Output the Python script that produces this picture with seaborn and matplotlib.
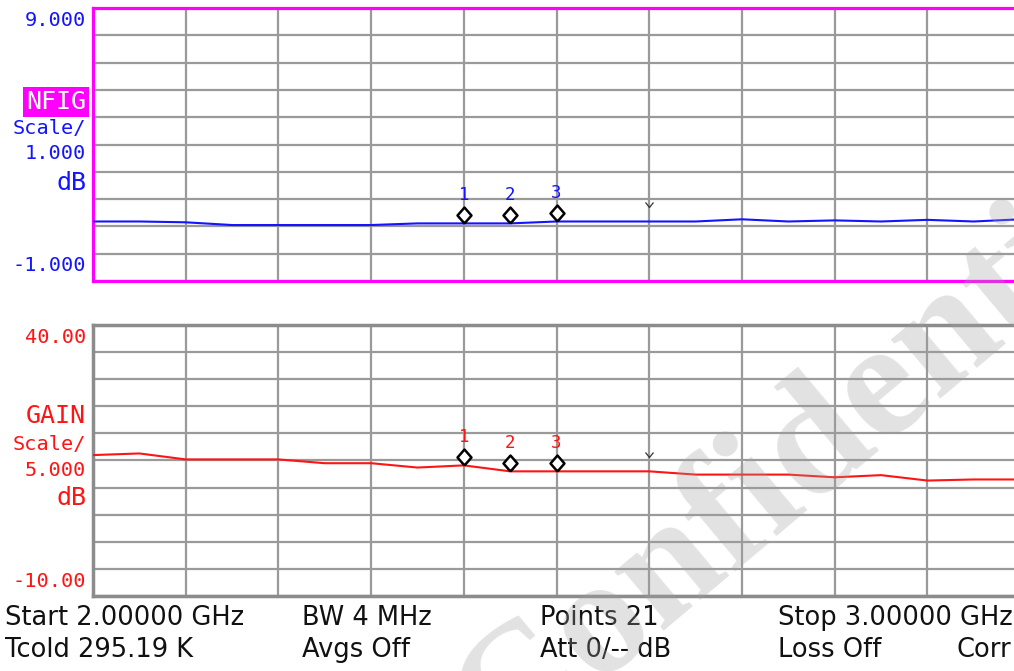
import numpy as np
import seaborn as sns
import matplotlib.pyplot as plt

# sweep points (GHz) and traces
freq_ghz = [2.00, 2.05, 2.10, 2.15, 2.20, 2.25, 2.30, 2.35, 2.40, 2.45, 2.50,
            2.55, 2.60, 2.65, 2.70, 2.75, 2.80, 2.85, 2.90, 2.95, 3.00]
nfig_db = [1.18, 1.18, 1.15, 1.05, 1.05, 1.05, 1.05, 1.11, 1.11, 1.11, 1.18,
           1.18, 1.18, 1.18, 1.26, 1.18, 1.22, 1.18, 1.24, 1.18, 1.26]
gain_db = [16.0, 16.3, 15.2, 15.2, 15.2, 14.5, 14.5, 13.7, 14.1, 13.0, 13.0,
           13.0, 13.0, 12.4, 12.4, 12.4, 11.9, 12.3, 11.3, 11.5, 11.5]

marker_freq = [2.40, 2.45, 2.50]
marker_names = ['1', '2', '3']
ref_freq = 2.60

nfig_labels = ['9.000', 'NFIG', 'Scale/', '1.000', 'dB', '-1.000']
gain_labels = ['40.00', 'GAIN', 'Scale/', '5.000', 'dB', '-10.00']
footer_row1 = ['Start 2.00000 GHz', 'BW 4 MHz', 'Points 21', 'Stop 3.00000 GHz']
footer_row2 = ['Tcold 295.19 K', 'Avgs Off', 'Att 0/-- dB', 'Loss Off', 'Corr']

BLUE = '#1414ff'
RED = '#ff1414'
MAGENTA = '#ff00ff'
GRID = '#9a9a9a'

sns.set_style('white')
plt.rcParams['font.family'] = ['DejaVu Sans Mono', 'DejaVu Sans']

W, H = 1014, 671
fig = plt.figure(figsize=(W / 100, H / 100), dpi=100)
fig.patch.set_facecolor('white')


def px_axes(x0, y0, x1, y1):
    return fig.add_axes([x0 / W, 1 - y1 / H, (x1 - x0) / W, (y1 - y0) / H])


def px_text(x, y, s, **kw):
    return fig.text(x / W, 1 - y / H, s, **kw)


# custom markers in pixel units (1 unit = 1 px at the chosen markersize)
diamond = [(0, 0), (7, 8), (0, 16), (-7, 8), (0, 0)]
chevron = [(-4, 19), (0, 14), (4, 19)]


def panel(ax, y, lo, hi, color, spine_color, spine_w):
    sns.lineplot(x=freq_ghz, y=y, ax=ax, color=color, linewidth=1.5,
                 legend=False, zorder=3)
    ax.set_xlim(2.0, 3.0)
    ax.set_ylim(lo, hi)
    ax.set_xticks(np.linspace(2.0, 3.0, 11))
    ax.set_yticks(np.linspace(lo, hi, 11))
    ax.grid(True, color=GRID, linewidth=1.6, zorder=0)
    ax.set_axisbelow(True)
    ax.tick_params(length=0, labelbottom=False, labelleft=False)
    ax.set_xlabel('')
    ax.set_ylabel('')
    for s in ax.spines.values():
        s.set_color(spine_color)
        s.set_linewidth(spine_w)

    for f, name in zip(marker_freq, marker_names):
        v = y[freq_ghz.index(f)]
        ax.plot([f], [v], marker=diamond, markersize=23, mfc='white',
                mec='black', mew=1.8, ls='none', zorder=5)
        ax.annotate(name, (f, v), xytext=(0, 17), textcoords='offset points',
                    ha='center', va='baseline', color=color, fontsize=12.5,
                    zorder=6)
    rv = y[freq_ghz.index(ref_freq)]
    ax.plot([ref_freq], [rv], marker=chevron, markersize=27.4, mfc='none',
            mec='#333333', mew=0.9, ls='none', zorder=5)


ax_nf = px_axes(93, 8, 1020, 281)
panel(ax_nf, nfig_db, -1, 9, BLUE, MAGENTA, 2.3)
ax_g = px_axes(93, 325, 1020, 596)
panel(ax_g, gain_db, -10, 40, RED, '#8c8c8c', 2.5)

# left-side scale annotations
small = dict(ha='right', va='baseline', fontsize=14.6)
big = dict(ha='right', va='baseline', fontsize=18)
nf_base = [26, 109, 134, 159, 190, 271]
g_base = [343, 423, 450, 476, 505, 587]
for lab, yb in zip(nfig_labels, nf_base):
    if lab == 'NFIG':
        px_text(86, yb, lab, color='white',
                bbox=dict(boxstyle='square,pad=0.12', fc=MAGENTA, ec='none'),
                **big)
    elif lab == 'dB':
        px_text(86, yb, lab, color=BLUE, **big)
    else:
        px_text(86, yb, lab, color=BLUE, **small)
for lab, yb in zip(gain_labels, g_base):
    kw = big if lab in ('GAIN', 'dB') else small
    px_text(86, yb, lab, color=RED, **kw)

# footer status lines
foot = dict(ha='left', va='baseline', fontsize=18.5, color='#111111',
            family='DejaVu Sans')
for x, s in zip([5, 302, 540, 778], footer_row1):
    px_text(x, 625, s, **foot)
for x, s in zip([5, 302, 540, 778, 957], footer_row2):
    px_text(x, 657, s, **foot)

# watermark (runs off the bottom-right edge, as in the screenshot)
px_text(818, 442, 'Confidential', rotation=40, rotation_mode='anchor',
        ha='center', va='center', fontsize=120, family='Liberation Serif',
        weight='bold', color='#a0a0a0', alpha=0.3, zorder=20)

fig.savefig('out.png', dpi=100, facecolor='white')
